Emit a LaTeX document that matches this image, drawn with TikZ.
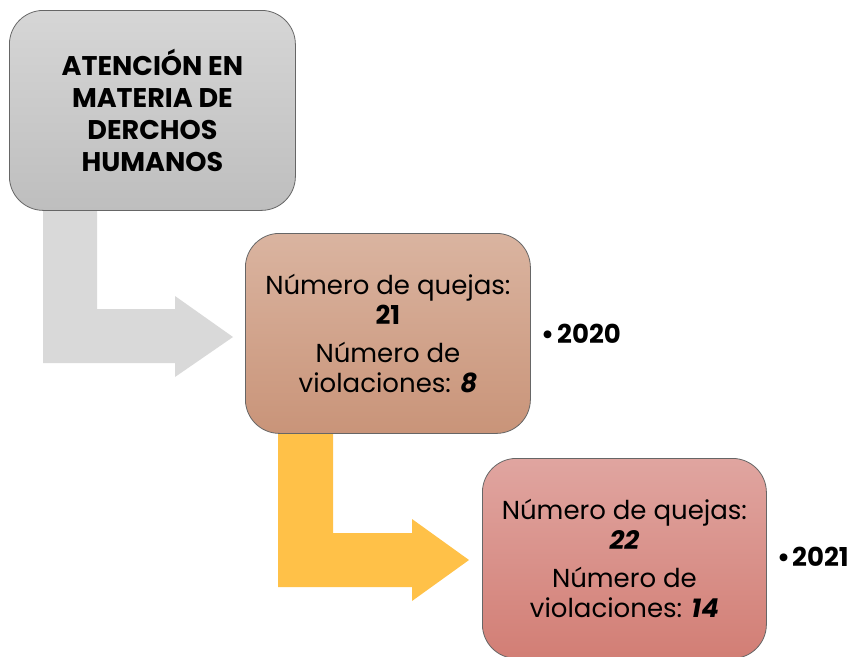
\documentclass[tikz,border=0pt]{standalone}
\usepackage{fontspec}
\setmainfont{Poppins}
\definecolor{gtop}{RGB}{214,214,214}
\definecolor{gbot}{RGB}{190,190,190}
\definecolor{btop}{RGB}{218,180,160}
\definecolor{bbot}{RGB}{201,148,121}
\definecolor{rtop}{RGB}{224,165,160}
\definecolor{rbot}{RGB}{210,126,117}
\definecolor{garrow}{RGB}{217,217,217}
\definecolor{yarrow}{RGB}{255,193,72}
\begin{document}
\begin{tikzpicture}[x=1pt,y=-1pt,
  box/.style={draw=#1, line width=0.8pt, rounded corners=34pt, anchor=north west, inner sep=0pt, align=center},
  bodytext/.style={font=\fontsize{26}{29.5}\selectfont},
  yeartext/.style={font=\fontsize{26}{30}\selectfont\bfseries, anchor=west, inner sep=0pt}]
\useasboundingbox (0,0) rectangle (853,656);
% arrows
\fill[garrow] (43,210) -- (97,210) -- (97,309) -- (175,309) -- (175,296) -- (233,337) -- (175,377) -- (175,363) -- (43,363) -- cycle;
\fill[yarrow] (278,433) -- (333,433) -- (333,533) -- (412,533) -- (412,519) -- (469,560) -- (412,601) -- (412,587) -- (278,587) -- cycle;
% boxes
\node[box={black!60}, top color=gtop, bottom color=gbot, minimum width=286pt, minimum height=200pt] (b1) at (9,10) {};
\node[font=\fontsize{27}{32}\selectfont\bfseries, align=center] (t1) at (b1.center) {ATENCIÓN EN\\MATERIA DE\\DERCHOS\\HUMANOS};
\node[box={black!60}, top color=btop, bottom color=bbot, minimum width=285pt, minimum height=200pt] (b2) at (245,233) {};
\node[bodytext, align=center] (t2) at (b2.center) {Número de quejas:\\\textbf{21}\\[9pt]Número de\\violaciones: \textbf{\itshape 8}};
\node[box={black!60}, top color=rtop, bottom color=rbot, minimum width=284pt, minimum height=200pt] (b3) at (482,458) {};
\node[bodytext, align=center] (t3) at (b3.center) {Número de quejas:\\\textbf{\itshape 22}\\[9pt]Número de\\violaciones: \textbf{\itshape 14}};
% years
\node[yeartext] (y1) at (541,334) {\textbullet\kern3pt 2020};
\node[yeartext] (y2) at (777,557) {\textbullet\kern2pt 2021};
\end{tikzpicture}
\end{document}
